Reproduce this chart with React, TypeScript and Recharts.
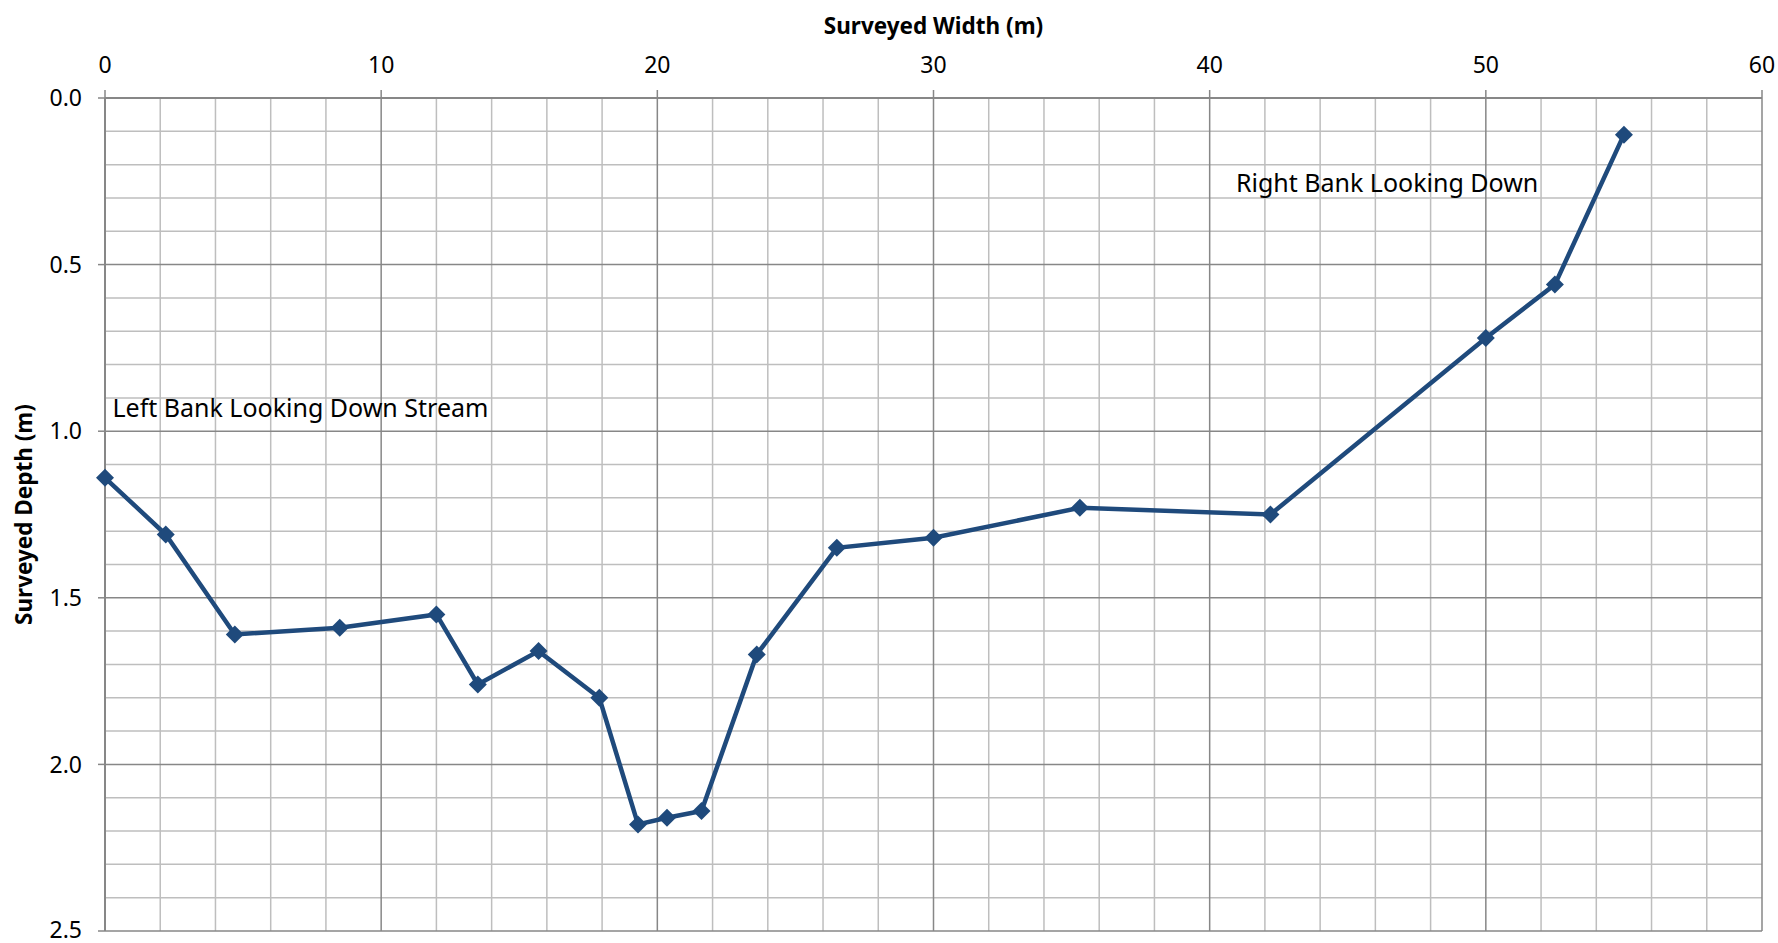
import React from 'react';
import { LineChart, Line, XAxis, YAxis, ReferenceLine, ReferenceDot } from 'recharts';

const widths = [0, 2.2, 4.7, 8.5, 12.0, 13.5, 15.7, 17.9, 19.3, 20.35, 21.6, 23.6, 26.5, 30.0, 35.3, 42.2, 50.0, 52.5, 55.0];
const depths = [1.14, 1.31, 1.61, 1.59, 1.55, 1.76, 1.66, 1.8, 2.18, 2.16, 2.14, 1.67, 1.35, 1.32, 1.23, 1.25, 0.72, 0.56, 0.11];

const xTicks = [0, 10, 20, 30, 40, 50, 60];
const yTicks = [0, 0.5, 1.0, 1.5, 2.0, 2.5];
const xMinor = [2, 4, 6, 8, 12, 14, 16, 18, 22, 24, 26, 28, 32, 34, 36, 38, 42, 44, 46, 48, 52, 54, 56, 58];
const yMinor = [0.1, 0.2, 0.3, 0.4, 0.6, 0.7, 0.8, 0.9, 1.1, 1.2, 1.3, 1.4, 1.6, 1.7, 1.8, 1.9, 2.1, 2.2, 2.3, 2.4];

const notes = [
    { x: 0.27, y: 0.93, text: 'Left Bank Looking Down Stream' },
    { x: 40.95, y: 0.255, text: 'Right Bank Looking Down' },
];

const data = widths.map((w, i) => ({ width: w, depth: depths[i] }));

const LINE = '#1F4A7C';
const MAJOR = '#878787';
const MINOR = '#BEBEBE';
const FONT = '"Noto Sans", "Open Sans", sans-serif';

const Diamond = (props: any) => {
    const { cx, cy } = props;
    if (cx == null || cy == null) return null;
    const s = 9;
    return <polygon points={`${cx},${cy - s} ${cx + s},${cy} ${cx},${cy + s} ${cx - s},${cy}`} fill={LINE} />;
};

const XTitle = (props: any) => {
    const vb = props.viewBox || { x: 105, width: 1657 };
    return (
        <text x={vb.x + vb.width / 2} y={25} textAnchor="middle" dominantBaseline="central"
            fontWeight="bold" fontSize={22.5} fill="#000" fontFamily={FONT}>
            Surveyed Width (m)
        </text>
    );
};

const YTitle = (props: any) => {
    const vb = props.viewBox || { y: 98, height: 833 };
    const cy = vb.y + vb.height / 2;
    return (
        <text x={23} y={cy} transform={`rotate(-90 23 ${cy})`} textAnchor="middle" dominantBaseline="central"
            fontWeight="bold" fontSize={22.5} fill="#000" fontFamily={FONT}>
            Surveyed Depth (m)
        </text>
    );
};

export default function App() {
    return (
        <div style={{ position: 'absolute', left: 0, top: 0, background: '#fff', fontFamily: FONT }}>
            <LineChart width={1778} height={943} data={data} margin={{ top: 10, right: 16, left: 0, bottom: 12 }}>
                <XAxis
                    dataKey="width"
                    type="number"
                    orientation="top"
                    domain={[0, 60]}
                    ticks={xTicks}
                    height={88}
                    axisLine={{ stroke: MAJOR, strokeWidth: 2 }}
                    tickLine={{ stroke: MAJOR, strokeWidth: 1.5 }}
                    tickSize={8}
                    tickMargin={17}
                    tick={{ fill: '#000', fontSize: 23 }}
                    label={<XTitle />}
                />
                <YAxis
                    dataKey="depth"
                    type="number"
                    reversed
                    domain={[0, 2.5]}
                    ticks={yTicks}
                    width={105}
                    axisLine={{ stroke: MAJOR, strokeWidth: 2 }}
                    tickLine={{ stroke: MAJOR, strokeWidth: 1.5 }}
                    tickSize={7}
                    tickMargin={16}
                    tickFormatter={(v: number) => v.toFixed(1)}
                    tick={{ fill: '#000', fontSize: 23 }}
                    label={<YTitle />}
                />
                {xMinor.map((v) => (
                    <ReferenceLine key={'xm' + v} x={v} stroke={MINOR} strokeWidth={1.5} />
                ))}
                {yMinor.map((v) => (
                    <ReferenceLine key={'ym' + v} y={v} stroke={MINOR} strokeWidth={1.5} />
                ))}
                {xTicks.map((v) => (
                    <ReferenceLine key={'xM' + v} x={v} stroke={MAJOR} strokeWidth={1.5} />
                ))}
                {yTicks.map((v) => (
                    <ReferenceLine key={'yM' + v} y={v} stroke={MAJOR} strokeWidth={1.5} />
                ))}
                {notes.map((n) => (
                    <ReferenceDot key={n.text} x={n.x} y={n.y} r={0} stroke="none" fill="none"
                        label={{ value: n.text, position: 'right', offset: 0, fill: '#000', fontSize: 25 }} />
                ))}
                <Line
                    type="linear"
                    dataKey="depth"
                    stroke={LINE}
                    strokeWidth={4.5}
                    dot={<Diamond />}
                    activeDot={false}
                    isAnimationActive={false}
                />
            </LineChart>
        </div>
    );
}
